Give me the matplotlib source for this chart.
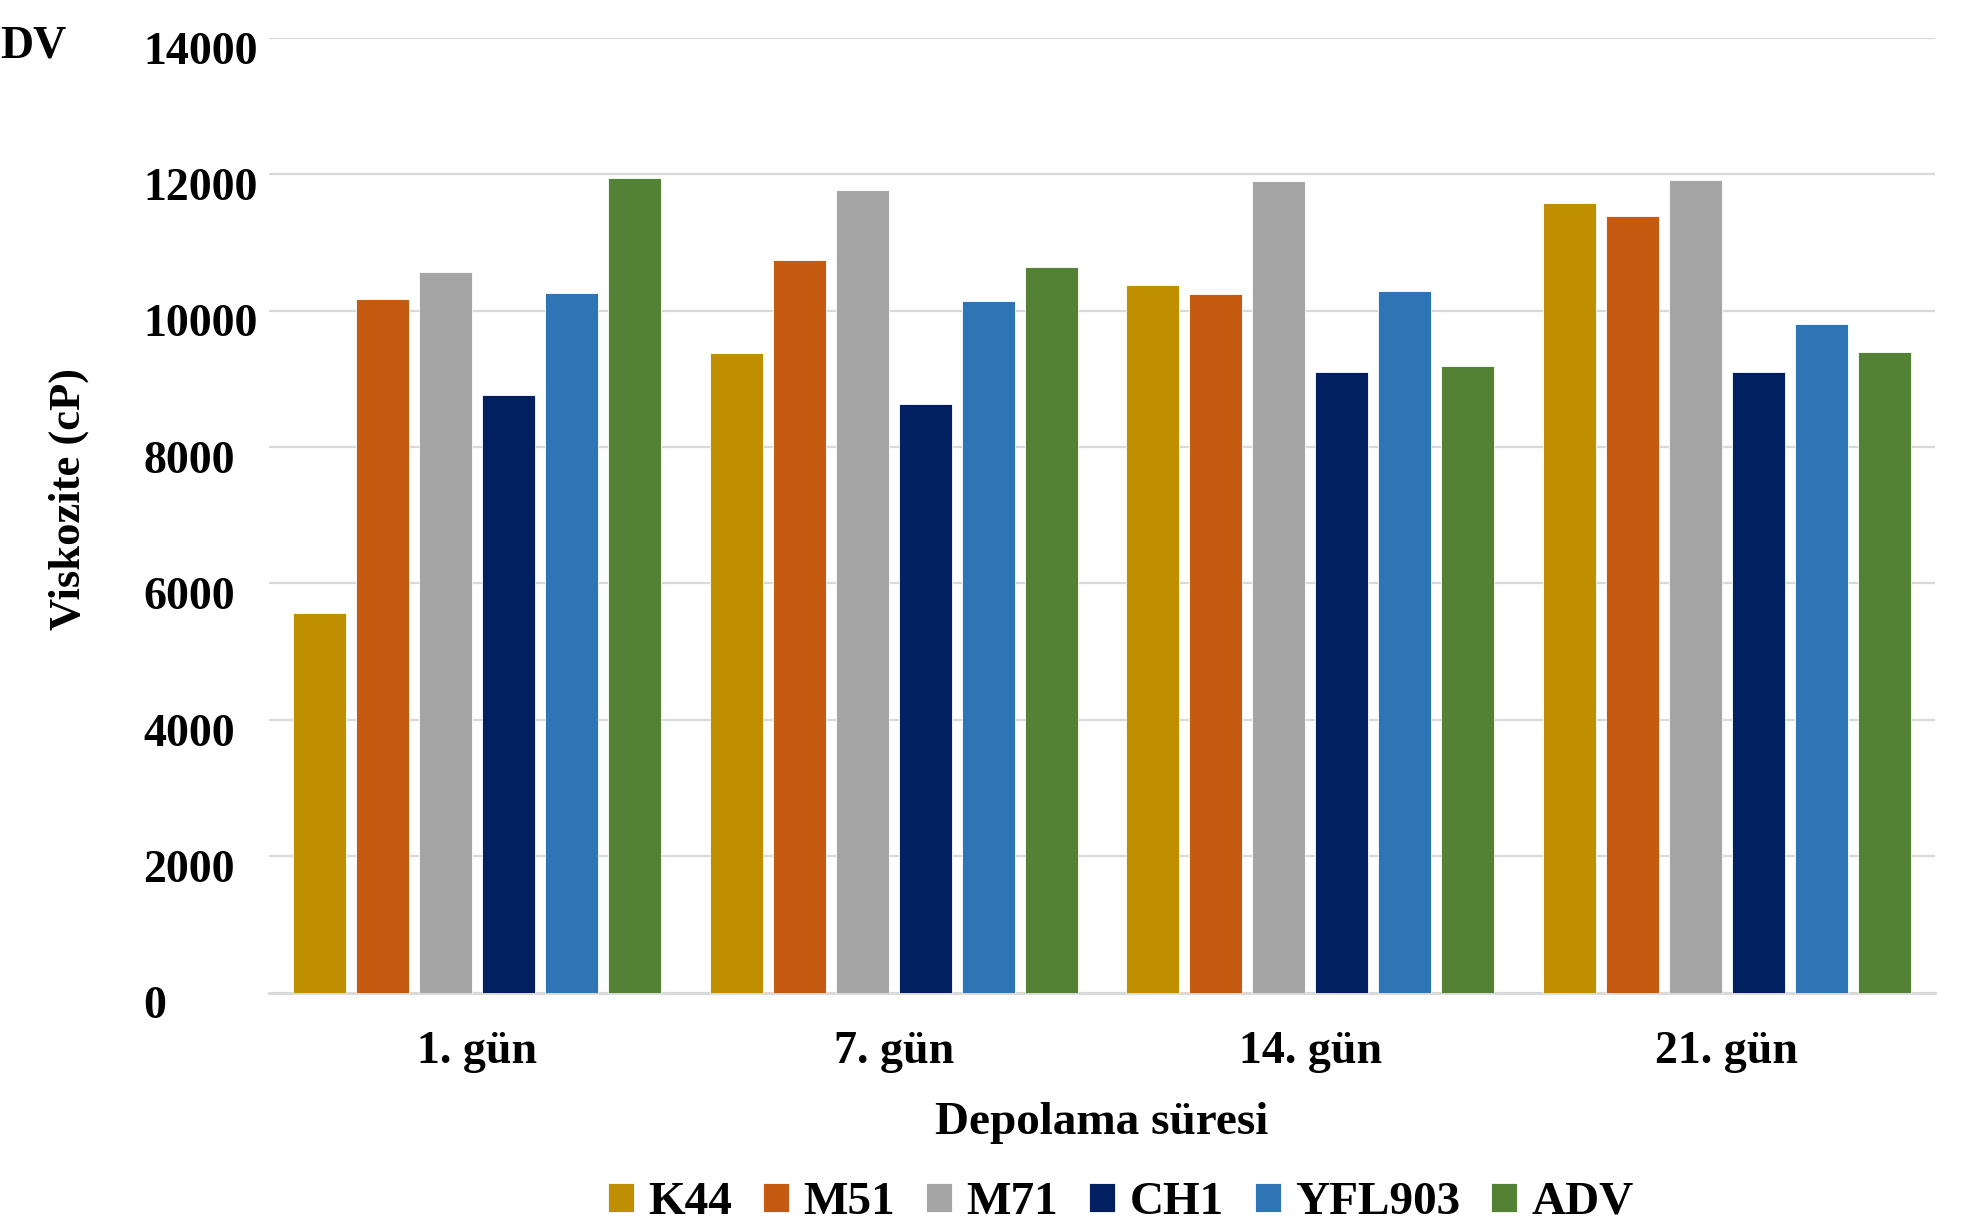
import numpy as np
import matplotlib
matplotlib.use('Agg')
import matplotlib.pyplot as plt
import matplotlib.transforms as mtransforms

# Depolama süresine göre viskozite (cP)
days = ['1. gün', '7. gün', '14. gün', '21. gün']
samples = ['K44', 'M51', 'M71', 'CH1', 'YFL903', 'ADV']
k44 = [5560, 9380, 10380, 11575]
m51 = [10170, 10745, 10240, 11390]
m71 = [10560, 11765, 11907, 11917]
ch1 = [8768, 8627, 9101, 9101]
yfl903 = [10255, 10138, 10289, 9800]
adv = [11942, 10641, 9189, 9399]
values = [k44, m51, m71, ch1, yfl903, adv]
colors = ['#BF8F00', '#C55A11', '#A5A5A5', '#002060', '#2E75B6', '#548235']

plt.rcParams['font.family'] = ['Liberation Serif', 'DejaVu Serif']
plt.rcParams['font.weight'] = 'bold'

W, H = 1980, 1225
fig = plt.figure(figsize=(W / 100, H / 100), dpi=100)
ax = fig.add_axes([269 / W, 1 - 992.6 / H, (1935 - 269) / W, (992.6 - 37.9) / H])

x = np.arange(len(days))
pitch = 0.1513
width = 0.1265
for i, (name, vals, c) in enumerate(zip(samples, values, colors)):
    ax.bar(x + (i - 2.5) * pitch, vals, width, color=c, label=name,
           edgecolor='white', linewidth=0.6, zorder=3)

ax.set_xlim(-0.5, 3.5)
ax.set_ylim(0, 14000)
ax.set_yticks(np.arange(0, 14001, 2000))
ax.yaxis.grid(True, color='#D9D9D9', linewidth=1.6, zorder=0)
ax.set_axisbelow(True)
for s in ['top', 'right', 'left']:
    ax.spines[s].set_visible(False)
ax.spines['bottom'].set_color('#D9D9D9')
ax.spines['bottom'].set_linewidth(2)
ax.tick_params(axis='both', length=0, labelsize=33)
ax.tick_params(axis='x', pad=27.5)
ax.tick_params(axis='y', pad=90.5)
ax.set_xticks(x)
ax.set_xticklabels(days, fontweight='bold')

# y etiketleri sola hizalı, biraz aşağıda
shift = mtransforms.ScaledTranslation(0, -7 / 72, fig.dpi_scale_trans)
for lab in ax.get_yticklabels():
    lab.set_fontweight('bold')
    lab.set_horizontalalignment('left')
    lab.set_transform(lab.get_transform() + shift)

fig.text(69 / W, 1 - 499 / H, 'Viskozite (cP)', rotation=90, fontsize=32,
         fontweight='bold', ha='center', va='center')
fig.text(1102 / W, 1 - 1123 / H, 'Depolama süresi', fontsize=34,
         fontweight='bold', ha='center', va='center')
fig.text(0, 1 - 47 / H, 'DV', fontsize=33, fontweight='bold',
         ha='left', va='center')

fig.legend(loc='center', bbox_to_anchor=(1121 / W, 1 - 1203 / H), ncol=6,
           frameon=False, fontsize=34, handlelength=0.55, handleheight=0.55,
           handletextpad=0.3, columnspacing=0.66, borderaxespad=0)

fig.savefig('out.png', dpi=100, facecolor='white')
